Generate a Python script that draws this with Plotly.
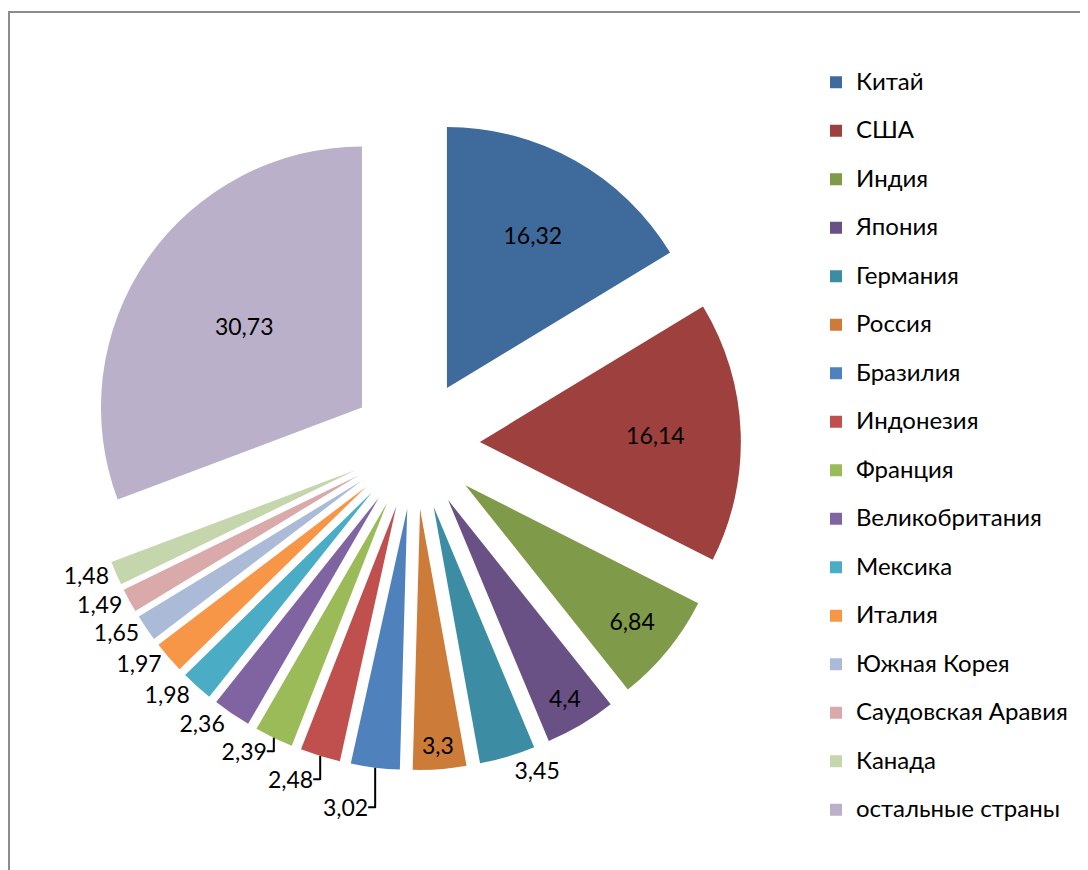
import plotly.graph_objects as go

countries = ["Китай", "США", "Индия", "Япония", "Германия", "Россия", "Бразилия",
             "Индонезия", "Франция", "Великобритания", "Мексика", "Италия",
             "Южная Корея", "Саудовская Аравия", "Канада", "остальные страны"]
values = [16.32, 16.14, 6.84, 4.4, 3.45, 3.3, 3.02, 2.48, 2.39, 2.36, 1.98, 1.97,
          1.65, 1.49, 1.48, 30.73]
colors = ["#3F6A9C", "#9D403E", "#7F9A48", "#695185", "#3C8DA3", "#CC7B38",
          "#4F81BD", "#C0504D", "#9BBB59", "#8064A2", "#4BACC6", "#F79646",
          "#AABAD7", "#D9AAA9", "#C6D6AC", "#BAB0C9"]
inside = {"Китай", "США", "Индия", "Япония", "Россия", "остальные страны"}
positions = ["inside" if c in inside else "outside" for c in countries]

FONT = "Lato, 'Open Sans', sans-serif"
legend_labels = ["<span style='font-size:24px;baseline-shift:6px'>%s</span>" % c for c in countries]

fig = go.Figure(go.Pie(
    labels=legend_labels,
    values=values,
    sort=False,
    direction="clockwise",
    rotation=0,
    pull=0.248,
    marker=dict(colors=colors, line=dict(width=0)),
    textinfo="value",
    textposition=positions,
    insidetextorientation="horizontal",
    insidetextfont=dict(family=FONT, size=23, color="black"),
    outsidetextfont=dict(family=FONT, size=23, color="black"),
    hovertext=countries,
    hoverinfo="text+value",
    domain=dict(x=[0.07485, 0.67365], y=[0.1240, 0.8728]),
))

fig.update_layout(
    width=1088, height=870,
    margin=dict(l=0, r=0, t=0, b=0, autoexpand=False),
    paper_bgcolor="white",
    separators=", ",
    font=dict(family=FONT, size=23, color="black"),
    showlegend=True,
    legend=dict(x=808/1088, xanchor="left", y=1 - 45/870, yanchor="top",
                font=dict(family=FONT, size=35, color="black"),
                bgcolor="rgba(0,0,0,0)"),
    shapes=[dict(type="rect", xref="paper", yref="paper",
                 x0=1/1088, x1=1.05, y0=-0.05, y1=1 - 4/870,
                 line=dict(color="#8C8C8C", width=2))],
)

fig.write_html("out.html")
